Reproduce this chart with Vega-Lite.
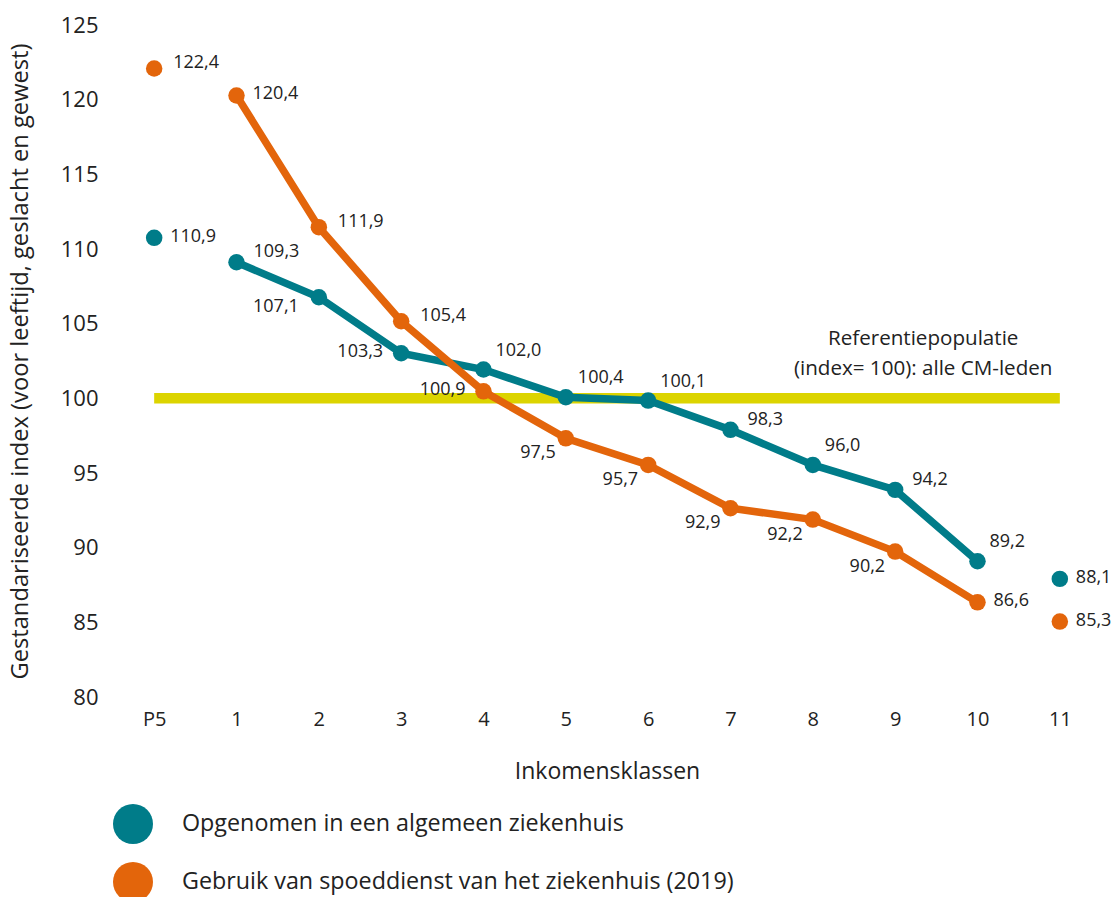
{
  "$schema": "https://vega.github.io/schema/vega-lite/v6.json",
  "width": 988,
  "height": 672,
  "autosize": {"type": "none"},
  "padding": {"left": 113, "top": 25, "right": 15, "bottom": 200},
  "background": "white",
  "config": {
    "view": {"stroke": null},
    "font": "Open Sans",
    "locale": {"number": {"decimal": ",", "thousands": ".", "grouping": [3], "currency": ["€", ""]}},
    "axis": {"grid": false, "domain": false, "ticks": false, "tickSize": 0, "labelColor": "#222222", "titleColor": "#222222", "titleFontWeight": "normal", "labelFont": "Open Sans", "titleFont": "Open Sans"},
    "text": {"font": "Open Sans", "color": "#222222", "fontSize": 18}
  },
  "datasets": {
    "reeks": [
      {"klasse": "P5", "reeks": "Opgenomen in een algemeen ziekenhuis", "y": 110.75, "waarde": 110.9},
      {"klasse": "1", "reeks": "Opgenomen in een algemeen ziekenhuis", "y": 109.11, "waarde": 109.3},
      {"klasse": "2", "reeks": "Opgenomen in een algemeen ziekenhuis", "y": 106.77, "waarde": 107.1},
      {"klasse": "3", "reeks": "Opgenomen in een algemeen ziekenhuis", "y": 103.02, "waarde": 103.3},
      {"klasse": "4", "reeks": "Opgenomen in een algemeen ziekenhuis", "y": 101.93, "waarde": 102.0},
      {"klasse": "5", "reeks": "Opgenomen in een algemeen ziekenhuis", "y": 100.07, "waarde": 100.4},
      {"klasse": "6", "reeks": "Opgenomen in een algemeen ziekenhuis", "y": 99.85, "waarde": 100.1},
      {"klasse": "7", "reeks": "Opgenomen in een algemeen ziekenhuis", "y": 97.89, "waarde": 98.3},
      {"klasse": "8", "reeks": "Opgenomen in een algemeen ziekenhuis", "y": 95.54, "waarde": 96.0},
      {"klasse": "9", "reeks": "Opgenomen in een algemeen ziekenhuis", "y": 93.87, "waarde": 94.2},
      {"klasse": "10", "reeks": "Opgenomen in een algemeen ziekenhuis", "y": 89.09, "waarde": 89.2},
      {"klasse": "11", "reeks": "Opgenomen in een algemeen ziekenhuis", "y": 87.91, "waarde": 88.1},
      {"klasse": "P5", "reeks": "Gebruik van spoeddienst van het ziekenhuis (2019)", "y": 122.09, "waarde": 122.4},
      {"klasse": "1", "reeks": "Gebruik van spoeddienst van het ziekenhuis (2019)", "y": 120.28, "waarde": 120.4},
      {"klasse": "2", "reeks": "Gebruik van spoeddienst van het ziekenhuis (2019)", "y": 111.46, "waarde": 111.9},
      {"klasse": "3", "reeks": "Gebruik van spoeddienst van het ziekenhuis (2019)", "y": 105.16, "waarde": 105.4},
      {"klasse": "4", "reeks": "Gebruik van spoeddienst van het ziekenhuis (2019)", "y": 100.47, "waarde": 100.9},
      {"klasse": "5", "reeks": "Gebruik van spoeddienst van het ziekenhuis (2019)", "y": 97.32, "waarde": 97.5},
      {"klasse": "6", "reeks": "Gebruik van spoeddienst van het ziekenhuis (2019)", "y": 95.54, "waarde": 95.7},
      {"klasse": "7", "reeks": "Gebruik van spoeddienst van het ziekenhuis (2019)", "y": 92.64, "waarde": 92.9},
      {"klasse": "8", "reeks": "Gebruik van spoeddienst van het ziekenhuis (2019)", "y": 91.88, "waarde": 92.2},
      {"klasse": "9", "reeks": "Gebruik van spoeddienst van het ziekenhuis (2019)", "y": 89.74, "waarde": 90.2},
      {"klasse": "10", "reeks": "Gebruik van spoeddienst van het ziekenhuis (2019)", "y": 86.34, "waarde": 86.6},
      {"klasse": "11", "reeks": "Gebruik van spoeddienst van het ziekenhuis (2019)", "y": 85.05, "waarde": 85.3}
    ]
  },
  "data": {"name": "reeks"},
  "encoding": {
    "x": {
      "field": "klasse", "type": "ordinal",
      "scale": {"type": "point", "padding": 0.5, "domain": ["P5", "1", "2", "3", "4", "5", "6", "7", "8", "9", "10", "11"]},
      "axis": {"title": "Inkomensklassen", "labelAngle": 0, "labelFontSize": 20, "labelPadding": 12, "titleFontSize": 23, "titlePadding": 31}
    },
    "y": {
      "field": "y", "type": "quantitative",
      "scale": {"domain": [80, 125], "nice": false, "zero": false},
      "axis": {"title": "Gestandariseerde index (voor leeftijd, geslacht en gewest)", "values": [80, 85, 90, 95, 100, 105, 110, 115, 120, 125], "labelFontSize": 22, "labelPadding": 15, "titleFontSize": 23.7, "titlePadding": 28}
    }
  },
  "layer": [
    {
      "data": {"values": [{"klasse": "P5", "tot": "11", "y": 100}]},
      "mark": {"type": "rule", "color": "#dcd400", "strokeWidth": 10.5},
      "encoding": {"x2": {"field": "tot"}}
    },
    {
      "data": {"values": [{"klasse": "9", "y": 100}]},
      "mark": {"type": "text", "text": ["Referentiepopulatie", "(index= 100): alle CM-leden"], "align": "center", "baseline": "alphabetic", "dx": 28, "dy": -53, "lineHeight": 30, "fontSize": 20.6}
    },
    {
      "transform": [{"filter": "datum.reeks === 'Opgenomen in een algemeen ziekenhuis' && datum.klasse !== 'P5' && datum.klasse !== '11'"}],
      "mark": {"type": "line", "strokeWidth": 7.5, "color": "#007c89"},
      "encoding": {}
    },
    {
      "transform": [{"filter": "datum.reeks === 'Gebruik van spoeddienst van het ziekenhuis (2019)' && datum.klasse !== 'P5' && datum.klasse !== '11'"}],
      "mark": {"type": "line", "strokeWidth": 7.5, "color": "#e3650b"},
      "encoding": {}
    },
    {
      "mark": {"type": "point", "filled": true, "opacity": 1, "size": 272},
      "encoding": {
        "color": {"field": "reeks", "type": "nominal",
          "scale": {"domain": ["Opgenomen in een algemeen ziekenhuis", "Gebruik van spoeddienst van het ziekenhuis (2019)"], "range": ["#007c89", "#e3650b"]},
          "legend": {"orient": "none", "legendX": 0, "legendY": 779, "title": null, "direction": "vertical", "symbolType": "circle", "symbolSize": 1600, "symbolStrokeWidth": 0, "symbolOpacity": 1, "labelFontSize": 23.3, "labelColor": "#222222", "labelFont": "Open Sans", "labelOffset": 29, "rowPadding": 18, "labelLimit": 700, "padding": 0}}
      }
    },
    {
      "transform": [{"filter": "(datum.reeks === 'Opgenomen in een algemeen ziekenhuis' && indexof(['P5','11'], datum.klasse) >= 0) || (datum.reeks === 'Gebruik van spoeddienst van het ziekenhuis (2019)' && indexof(['1','10','11'], datum.klasse) >= 0)"}],
      "mark": {"type": "text", "align": "left", "baseline": "middle", "dx": 16, "dy": -1},
      "encoding": {"text": {"field": "waarde", "type": "quantitative", "format": ".1f"}}
    },
    {
      "transform": [{"filter": "datum.reeks === 'Gebruik van spoeddienst van het ziekenhuis (2019)' && indexof(['P5','2','3'], datum.klasse) >= 0"}],
      "mark": {"type": "text", "align": "left", "baseline": "middle", "dx": 19, "dy": -5},
      "encoding": {"text": {"field": "waarde", "type": "quantitative", "format": ".1f"}}
    },
    {
      "transform": [{"filter": "datum.reeks === 'Opgenomen in een algemeen ziekenhuis' && indexof(['4','5','6','8','10'], datum.klasse) >= 0"}],
      "mark": {"type": "text", "align": "left", "baseline": "middle", "dx": 12, "dy": -19},
      "encoding": {"text": {"field": "waarde", "type": "quantitative", "format": ".1f"}}
    },
    {
      "transform": [{"filter": "datum.reeks === 'Opgenomen in een algemeen ziekenhuis' && indexof(['1','7','9'], datum.klasse) >= 0"}],
      "mark": {"type": "text", "align": "left", "baseline": "middle", "dx": 17, "dy": -10},
      "encoding": {"text": {"field": "waarde", "type": "quantitative", "format": ".1f"}}
    },
    {
      "transform": [{"filter": "(datum.reeks === 'Opgenomen in een algemeen ziekenhuis' && datum.klasse === '3') || (datum.reeks === 'Gebruik van spoeddienst van het ziekenhuis (2019)' && datum.klasse === '4')"}],
      "mark": {"type": "text", "align": "right", "baseline": "middle", "dx": -18, "dy": -1},
      "encoding": {"text": {"field": "waarde", "type": "quantitative", "format": ".1f"}}
    },
    {
      "transform": [{"filter": "datum.reeks === 'Gebruik van spoeddienst van het ziekenhuis (2019)' && indexof(['5','6','7','8','9'], datum.klasse) >= 0"}],
      "mark": {"type": "text", "align": "right", "baseline": "middle", "dx": -10, "dy": 15},
      "encoding": {"text": {"field": "waarde", "type": "quantitative", "format": ".1f"}}
    },
    {
      "transform": [{"filter": "datum.reeks === 'Opgenomen in een algemeen ziekenhuis' && datum.klasse === '2'"}],
      "mark": {"type": "text", "align": "right", "baseline": "middle", "dx": -20, "dy": 10},
      "encoding": {"text": {"field": "waarde", "type": "quantitative", "format": ".1f"}}
    }
  ]
}
